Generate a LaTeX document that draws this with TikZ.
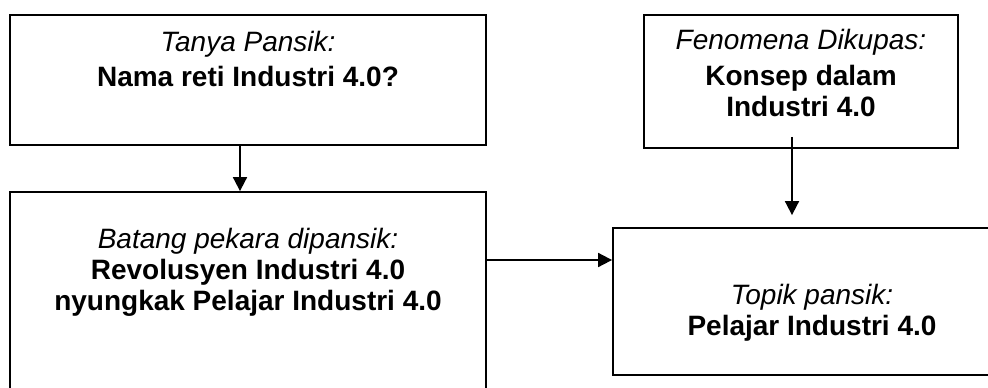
\documentclass[tikz,border=0pt]{standalone}
\usepackage{fontspec}
\setmainfont{Liberation Sans}
\usetikzlibrary{positioning,arrows.meta}
\begin{document}
\begin{tikzpicture}[x=1pt,y=-1pt,
		box/.style={draw,line width=1.8pt,inner sep=0pt},
		txt/.style={align=center,inner sep=0pt,font=\fontsize{28}{31}\selectfont},
		arr/.style={line width=1.8pt,-{Triangle[length=14pt,width=14pt]}}]
		\useasboundingbox (0,0) rectangle (988,388);
		\clip (0,0) rectangle (988,388);

		\node[box,minimum width=476pt,minimum height=130pt] (tanya) at (248,80) {};
		\node[txt,below=17pt of tanya.north] (tanyaT) {\textit{Tanya Pansik:}\\[4pt]\textbf{Nama reti Industri 4.0?}};
		\node[box,minimum width=314pt,minimum height=133pt] (fenomena) at (801,81.5) {};
		\node[txt,below=15pt of fenomena.north] (fenomenaT) {\textit{Fenomena Dikupas:}\\[5pt]\textbf{Konsep dalam}\\\textbf{Industri 4.0}};
		\node[box,minimum width=476pt,minimum height=202pt] (batang) at (248,293) {};
		\node[txt,below=37pt of batang.north] (batangT) {\textit{Batang pekara dipansik:}\\\textbf{Revolusyen Industri 4.0}\\\textbf{nyungkak Pelajar Industri 4.0}};
		\node[box,minimum width=398pt,minimum height=147pt] (topik) at (812,301.5) {};
		\node[txt,below=57pt of topik.north] (topikT) {\textit{Topik pansik:}\\\textbf{Pelajar Industri 4.0}};

		\coordinate (p) at ([yshift=33pt]batang.east);
		\coordinate (q) at ([xshift=-9pt,yshift=12pt]fenomena.south);
		\draw[arr] ([xshift=-8pt]tanya.south) -- ([xshift=-8pt]batang.north);
		\draw[arr] (p) -- (p -| topik.west);
		\draw[arr,shorten >=12pt] (q) -- (q |- topik.north);
	\end{tikzpicture}
\end{document}
